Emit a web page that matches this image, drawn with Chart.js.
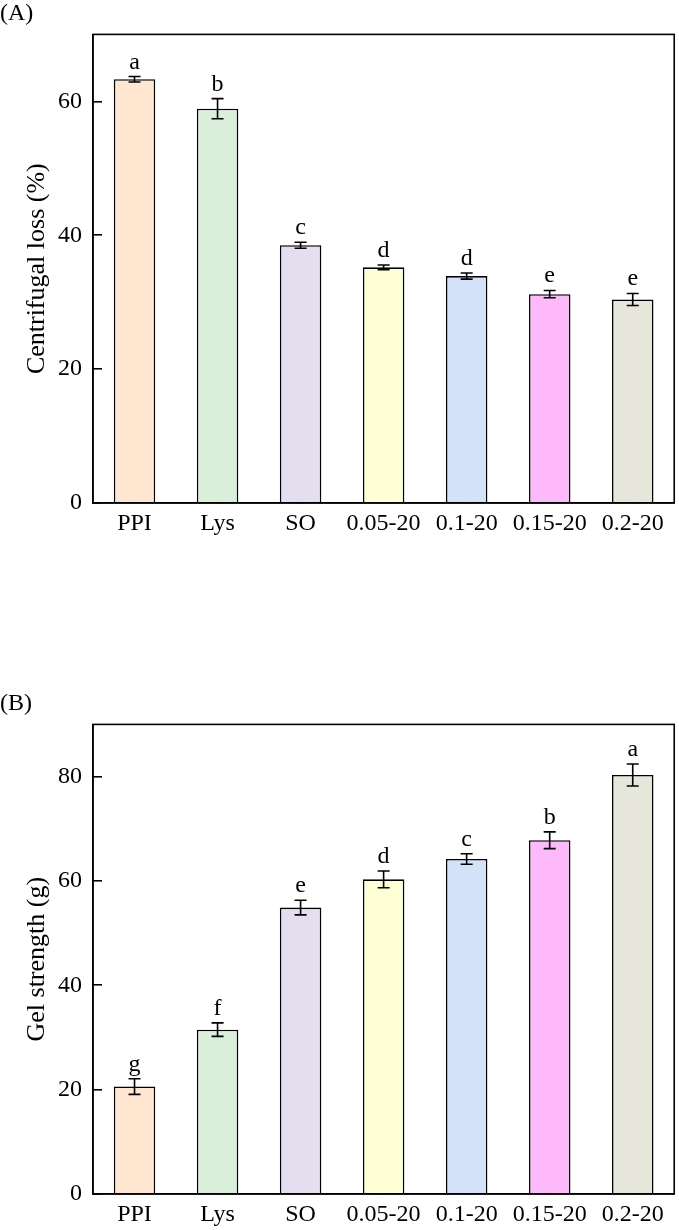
<!DOCTYPE html>
<html>
<head>
<meta charset="utf-8">
<script src="https://cdn.jsdelivr.net/npm/chart.js@4/dist/chart.umd.min.js"></script>
<style>
    body { margin: 0; background: #fff; }
    .panel { position: absolute; left: 0; width: 679px; height: 540px; }
</style>
</head>
<body>
<div class="panel" style="top:0"><canvas id="chartA"></canvas></div>
<div class="panel" style="top:690px"><canvas id="chartB"></canvas></div>
<script>
// data
const groups = ['PPI', 'Lys', 'SO', '0.05-20', '0.1-20', '0.15-20', '0.2-20'];
const barColors = ['#FFE6D0', '#DAEFDA', '#E4DEEE', '#FFFFD5', '#D3E2F8', '#FDB9F9', '#E6E6DA'];

const lossValues = [63.3, 58.9, 38.5, 35.2, 33.9, 31.2, 30.4];
const lossErrors = [0.4, 1.5, 0.45, 0.35, 0.45, 0.55, 0.9];
const lossLetters = ['a', 'b', 'c', 'd', 'd', 'e', 'e'];
const lossTicks = [0, 20, 40, 60];

const gelValues = [20.6, 31.5, 54.9, 60.3, 64.2, 67.8, 80.3];
const gelErrors = [1.5, 1.3, 1.4, 1.6, 1.0, 1.6, 2.1];
const gelLetters = ['g', 'f', 'e', 'd', 'c', 'b', 'a'];
const gelTicks = [0, 20, 40, 60, 80];

const FONT = '"Liberation Serif", "Times New Roman", serif';

// error bars + significance letters + frame + panel letter
const extrasPlugin = {
    id: 'extras',
    afterDatasetsDraw(chart, args, opts) {
        const ctx = chart.ctx;
        const x = chart.scales.x, y = chart.scales.y;
        const vals = chart.data.datasets[0].data;
        ctx.save();
        ctx.strokeStyle = '#000';
        ctx.lineWidth = 1.6;
        ctx.fillStyle = '#000';
        ctx.font = '24px ' + FONT;
        ctx.textAlign = 'center';
        ctx.textBaseline = 'alphabetic';
        vals.forEach((v, i) => {
            const cx = x.getPixelForValue(i);
            const yTop = y.getPixelForValue(v + opts.errors[i]);
            const yBot = y.getPixelForValue(v - opts.errors[i]);
            ctx.beginPath();
            ctx.moveTo(cx, yTop); ctx.lineTo(cx, yBot);
            ctx.moveTo(cx - 6, yTop); ctx.lineTo(cx + 6, yTop);
            ctx.moveTo(cx - 6, yBot); ctx.lineTo(cx + 6, yBot);
            ctx.stroke();
            ctx.fillText(opts.letters[i], cx, yTop - 8);
        });
        ctx.restore();
    },
    afterDraw(chart, args, opts) {
        const ctx = chart.ctx;
        const a = chart.chartArea;
        ctx.save();
        ctx.strokeStyle = '#000';
        ctx.lineWidth = 1.6;
        ctx.strokeRect(a.left, a.top, a.right - a.left, a.bottom - a.top);
        ctx.fillStyle = '#000';
        ctx.font = '24px ' + FONT;
        ctx.textAlign = 'left';
        ctx.textBaseline = 'alphabetic';
        ctx.fillText(opts.panel, 0, 20);
        ctx.restore();
    }
};

function makeChart(id, values, errors, letters, tickVals, yMax, title, panel, topPad, xHeight) {
    const ctx = document.getElementById(id).getContext('2d');
    return new Chart(ctx, {
        type: 'bar',
        data: {
            labels: groups,
            datasets: [{
                data: values,
                backgroundColor: barColors,
                borderColor: '#000',
                borderWidth: 1.6,
                barPercentage: 0.5,
                categoryPercentage: 1.0
            }]
        },
        options: {
            responsive: true,
            maintainAspectRatio: false,
            animation: false,
            layout: { padding: { top: topPad, right: 4, left: 0, bottom: 0 } },
            plugins: {
                legend: { display: false },
                tooltip: { enabled: false },
                extras: { errors: errors, letters: letters, panel: panel }
            },
            scales: {
                x: {
                    grid: { offset: false, drawOnChartArea: false, drawTicks: true, tickLength: -9, color: '#000', lineWidth: 1.6 },
                    border: { color: '#000', width: 1.6 },
                    ticks: { color: '#000', padding: 15, font: { family: FONT, size: 24 }, maxRotation: 0, autoSkip: false },
                    afterFit(scale) { scale.height = xHeight; }
                },
                y: {
                    min: 0,
                    max: yMax,
                    afterBuildTicks(scale) { scale.ticks = tickVals.map(v => ({ value: v })); },
                    grid: { drawOnChartArea: false, drawTicks: true, tickLength: -9, color: '#000', lineWidth: 1.6 },
                    border: { color: '#000', width: 1.6 },
                    ticks: { color: '#000', padding: 20, font: { family: FONT, size: 24 } },
                    title: { display: true, text: title, color: '#000', font: { family: FONT, size: 26 }, padding: { top: 22, bottom: 0 } },
                    afterFit(scale) { scale.width = 93; }
                }
            }
        },
        plugins: [extrasPlugin]
    });
}

makeChart('chartA', lossValues, lossErrors, lossLetters, lossTicks, 70, 'Centrifugal loss (%)', '(A)', 33, 37);
makeChart('chartB', gelValues, gelErrors, gelLetters, gelTicks, 90, 'Gel strength (g)', '(B)', 34, 36);
</script>
</body>
</html>
